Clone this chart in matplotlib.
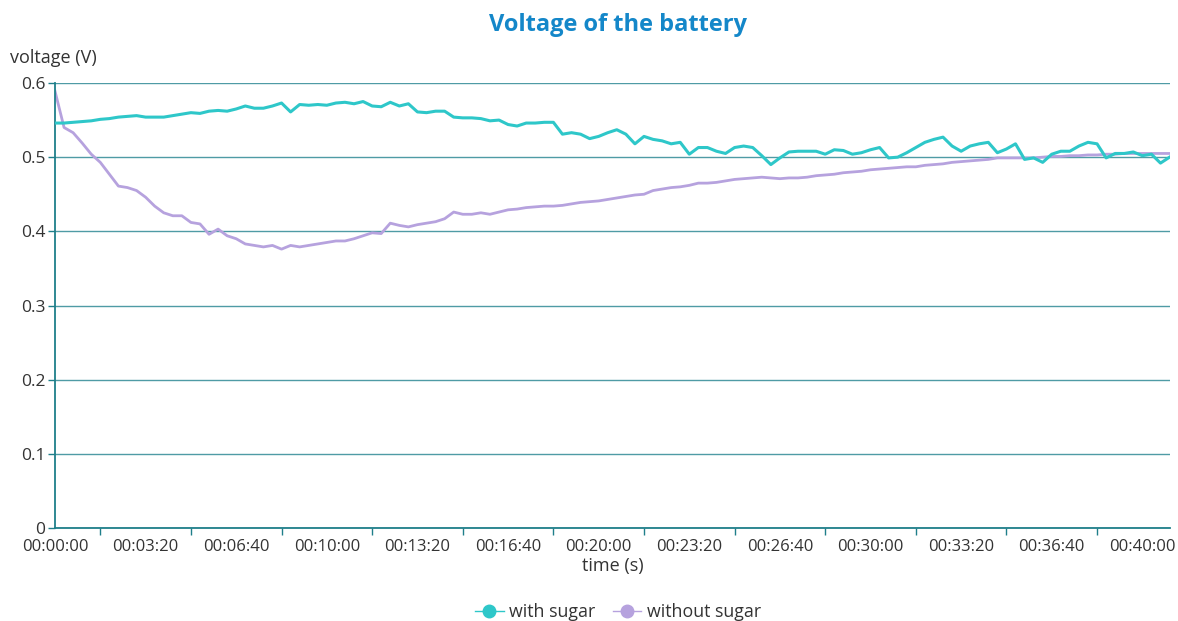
import numpy as np
import matplotlib
matplotlib.use("Agg")
import matplotlib.pyplot as plt
from matplotlib.ticker import FixedLocator, FuncFormatter
from matplotlib.lines import Line2D

plt.rcParams['font.family'] = ['Open Sans', 'DejaVu Sans']

# samples every 20 s
time_s = np.arange(0, 2461, 20)

with_sugar = [
    0.546, 0.546, 0.547, 0.548, 0.549, 0.551, 0.552, 0.554, 0.555, 0.556,
    0.554, 0.554, 0.554, 0.556, 0.558, 0.560, 0.559, 0.562, 0.563, 0.562,
    0.565, 0.569, 0.566, 0.566, 0.569, 0.573, 0.561, 0.571, 0.570, 0.571,
    0.570, 0.573, 0.574, 0.572, 0.575, 0.569, 0.568, 0.574, 0.569, 0.572,
    0.561, 0.560, 0.562, 0.562, 0.554, 0.553, 0.553, 0.552, 0.549, 0.550,
    0.544, 0.542, 0.546, 0.546, 0.547, 0.547, 0.531, 0.533, 0.531, 0.525,
    0.528, 0.533, 0.537, 0.531, 0.518, 0.528, 0.524, 0.522, 0.518, 0.520,
    0.504, 0.513, 0.513, 0.508, 0.505, 0.513, 0.515, 0.513, 0.502, 0.490,
    0.499, 0.507, 0.508, 0.508, 0.508, 0.504, 0.510, 0.509, 0.504, 0.506,
    0.510, 0.513, 0.499, 0.500, 0.506, 0.513, 0.520, 0.524, 0.527, 0.515,
    0.508, 0.515, 0.518, 0.520, 0.506, 0.511, 0.518, 0.497, 0.499, 0.493,
    0.504, 0.508, 0.508, 0.515, 0.520, 0.518, 0.499, 0.505, 0.505, 0.507,
    0.502, 0.504, 0.492, 0.500,
]

without_sugar = [
    0.589, 0.540, 0.533, 0.519, 0.504, 0.493, 0.477, 0.461, 0.459, 0.455,
    0.446, 0.434, 0.425, 0.421, 0.421, 0.412, 0.410, 0.396, 0.403, 0.394,
    0.390, 0.383, 0.381, 0.379, 0.381, 0.376, 0.381, 0.379, 0.381, 0.383,
    0.385, 0.387, 0.387, 0.390, 0.394, 0.398, 0.397, 0.411, 0.408, 0.406,
    0.409, 0.411, 0.413, 0.417, 0.426, 0.423, 0.423, 0.425, 0.423, 0.426,
    0.429, 0.430, 0.432, 0.433, 0.434, 0.434, 0.435, 0.437, 0.439, 0.440,
    0.441, 0.443, 0.445, 0.447, 0.449, 0.450, 0.455, 0.457, 0.459, 0.460,
    0.462, 0.465, 0.465, 0.466, 0.468, 0.470, 0.471, 0.472, 0.473, 0.472,
    0.471, 0.472, 0.472, 0.473, 0.475, 0.476, 0.477, 0.479, 0.480, 0.481,
    0.483, 0.484, 0.485, 0.486, 0.487, 0.487, 0.489, 0.490, 0.491, 0.493,
    0.494, 0.495, 0.496, 0.497, 0.499, 0.499, 0.499, 0.499, 0.499, 0.500,
    0.501, 0.501, 0.502, 0.502, 0.503, 0.503, 0.504, 0.504, 0.505, 0.505,
    0.505, 0.505, 0.505, 0.505,
]

teal = '#2ec7c9'
purple = '#b6a2de'
axis_col = '#1f7f8a'
grid_col = '#4f9ba5'
text_col = '#333333'

fig = plt.figure(figsize=(11.78, 6.21), dpi=100)
ax = fig.add_axes([55 / 1178, 1 - 528 / 621, (1170 - 55) / 1178, (528 - 83) / 621])

ax.plot(time_s, with_sugar, color=teal, lw=2.2, zorder=3)
ax.plot(time_s, without_sugar, color=purple, lw=2.0, zorder=2)

ax.set_xlim(0, 2461)
ax.set_ylim(0, 0.6)
ax.set_yticks(np.arange(0, 0.61, 0.1))
ax.yaxis.set_major_formatter(FuncFormatter(lambda v, p: '0' if v == 0 else f'{v:.1f}'))
ax.grid(axis='y', color=grid_col, lw=1)
ax.set_axisbelow(True)

def hms(v, p):
    v = int(round(v))
    return f'{v // 3600:02d}:{(v % 3600) // 60:02d}:{v % 60:02d}'

ax.xaxis.set_major_locator(FixedLocator(np.arange(0, 2401, 200)))
ax.xaxis.set_major_formatter(FuncFormatter(hms))
ax.xaxis.set_minor_locator(FixedLocator(np.arange(100, 2461, 200)))
ax.tick_params(axis='x', which='major', length=0, pad=8, labelsize=12, labelcolor=text_col)
ax.tick_params(axis='x', which='minor', length=5, width=1, color=axis_col)
ax.tick_params(axis='y', length=5, width=1, color=axis_col, labelsize=12.5, labelcolor=text_col, pad=2)

for s in ['top', 'right']:
    ax.spines[s].set_visible(False)
for s in ['left', 'bottom']:
    ax.spines[s].set_color(axis_col)
    ax.spines[s].set_linewidth(1.3)

fig.text(618 / 1178, 1 - 25 / 621, 'Voltage of the battery', ha='center', va='center',
         fontsize=17, fontweight='bold', color='#1487c9')
fig.text(10 / 1178, 1 - 58 / 621, 'voltage (V)', ha='left', va='center', fontsize=13, color=text_col)
fig.text(613 / 1178, 1 - 566 / 621, 'time (s)', ha='center', va='center', fontsize=13, color=text_col)

handles = [Line2D([], [], color=teal, marker='o', markersize=9, lw=1),
           Line2D([], [], color=purple, marker='o', markersize=9, lw=1)]
fig.legend(handles, ['with sugar', 'without sugar'], loc='center', ncol=2,
           bbox_to_anchor=(618 / 1178, 1 - 612 / 621), frameon=False, fontsize=12.8,
           handlelength=1.6, handletextpad=0.3, columnspacing=1.0, labelcolor=text_col)

fig.savefig('out.png', dpi=100)
